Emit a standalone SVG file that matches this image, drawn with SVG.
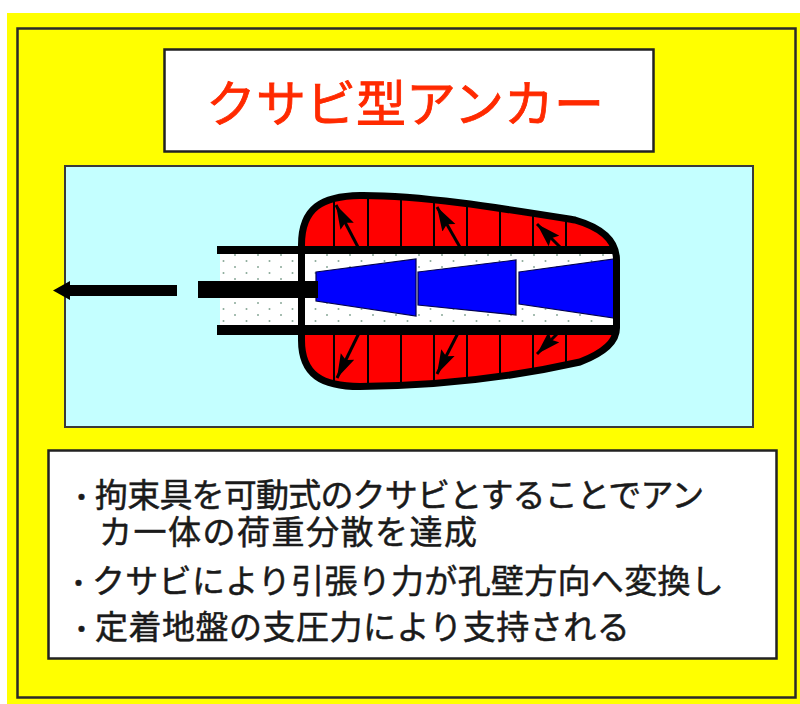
<svg xmlns="http://www.w3.org/2000/svg" width="800" height="704" viewBox="0 0 800 704">
  <style>
    .frame { fill: #ffff00; stroke: #2a2a2a; stroke-width: 2.5; }
    .box { fill: #ffffff; stroke: #222222; stroke-width: 2.5; }
    .panel { fill: #c4ffff; stroke: #3a3a3a; stroke-width: 2; }
    .title { font-family: "Noto Sans CJK JP", "Noto Sans", sans-serif; font-size: 50px; fill: #ff2a00; stroke: #ff2a00; stroke-width: 0.8; }
    .body { font-family: "Noto Sans CJK JP", "Noto Sans", sans-serif; font-size: 33px; fill: #1a1a1a; stroke: #1a1a1a; stroke-width: 0.5; }
    .dot { font-size: 27px; }
    .wedge { fill: #0000ff; stroke: #000050; stroke-width: 1.2; }
    .bar { fill: #000000; }
    .div { stroke: #000000; stroke-width: 2; }
    .force { stroke: #000000; stroke-width: 3; fill: none; marker-end: url(#head); }
  </style>
  <defs>
    <pattern id="grout" width="23" height="12" patternUnits="userSpaceOnUse">
      <rect width="23" height="12" fill="#ffffff"/>
      <circle cx="5" cy="3" r="1" fill="#8aa898"/>
      <circle cx="16.5" cy="9" r="1" fill="#8aa898"/>
    </pattern>
    <marker id="head" markerWidth="24" markerHeight="16" refX="24" refY="8" orient="auto" markerUnits="userSpaceOnUse">
      <path d="M0,0.5 L24,8 L0,15.5 L4,8 Z" fill="#000000"/>
    </marker>
    <clipPath id="capsuleClip">
      <path id="capsulePath" d="M301.5 245 C301.5 208 322 196 360 195.5 C420 195 500 208 575 220 Q616.5 232 616.5 260 L616.5 328 Q616.5 348 580 362 C500 380 420 386 360 386.5 C322 386.5 301.5 375 301.5 340 Z"/>
    </clipPath>
  </defs>

  <!-- background and outer frame -->
  <rect x="0" y="0" width="800" height="704" fill="#ffffff"/>
  <rect x="7" y="13" width="793" height="691" fill="#ffff00"/>
  <rect class="frame" x="17.5" y="28.5" width="778" height="669"/>

  <!-- title -->
  <g id="title">
    <rect class="box" x="164.5" y="49.5" width="489" height="102"/>
    <text class="title" x="206" y="122" textLength="398" lengthAdjust="spacingAndGlyphs">クサビ型アンカー</text>
  </g>

  <!-- anchor cross-section -->
  <g id="anchor">
    <rect class="panel" x="65" y="166" width="688" height="261"/>

    <!-- capsule body (red) with cell dividers -->
    <use href="#capsulePath" fill="#ff0000"/>
    <g clip-path="url(#capsuleClip)">
      <line class="div" x1="334" y1="185" x2="334" y2="395"/>
      <line class="div" x1="368" y1="185" x2="368" y2="395"/>
      <line class="div" x1="401" y1="185" x2="401" y2="395"/>
      <line class="div" x1="434" y1="185" x2="434" y2="395"/>
      <line class="div" x1="467" y1="185" x2="467" y2="395"/>
      <line class="div" x1="500" y1="185" x2="500" y2="395"/>
      <line class="div" x1="533" y1="185" x2="533" y2="395"/>
      <line class="div" x1="566" y1="185" x2="566" y2="395"/>
    </g>

    <!-- grout inside the sheath -->
    <rect x="220" y="254" width="397" height="71" fill="url(#grout)"/>

    <!-- sheath walls -->
    <rect class="bar" x="217" y="246" width="400" height="8"/>
    <rect class="bar" x="217" y="325" width="400" height="10"/>

    <!-- wedges -->
    <polygon class="wedge" points="316,272 416,259 416,316 316,301"/>
    <polygon class="wedge" points="418,272 516,260 516,315 418,305"/>
    <polygon class="wedge" points="519,272 614,259 614,318 519,304"/>

    <!-- tendon rod -->
    <rect class="bar" x="198" y="281" width="120" height="17"/>

    <!-- capsule outline -->
    <use href="#capsulePath" fill="none" stroke="#000000" stroke-width="7"/>
  </g>

  <!-- connectors: forces -->
  <g id="connectors">
    <line x1="177" y1="290.5" x2="67" y2="290.5" stroke="#000000" stroke-width="11"/>
    <polygon points="53,290.5 70,281 70,300" fill="#000000"/>

    <line class="force" x1="359" y1="249" x2="336" y2="205"/>
    <line class="force" x1="461" y1="249" x2="437" y2="207"/>
    <line class="force" x1="562" y1="249" x2="537" y2="224"/>
    <line class="force" x1="359" y1="333" x2="337" y2="378"/>
    <line class="force" x1="458" y1="333" x2="437" y2="374"/>
    <line class="force" x1="558" y1="333" x2="537" y2="354"/>
  </g>

  <!-- description -->
  <g id="notes">
    <rect class="box" x="48.5" y="450.5" width="728" height="208"/>
    <text class="body">
      <tspan class="dot" x="68" y="507">・</tspan><tspan x="95" y="507" style="letter-spacing:-0.8px">拘束具を可動式のクサビとすることでアン</tspan>
      <tspan x="99" y="544" style="letter-spacing:1.5px">カ一体の荷重分散を達成</tspan>
    </text>
    <text class="body"><tspan class="dot" x="65" y="593">・</tspan><tspan x="92" y="593" style="letter-spacing:0.3px">クサビにより引張り力が孔壁方向へ変換し</tspan></text>
    <text class="body"><tspan class="dot" x="68" y="639">・</tspan><tspan x="95" y="639" style="letter-spacing:0.5px">定着地盤の支圧力により支持される</tspan></text>
  </g>
</svg>
